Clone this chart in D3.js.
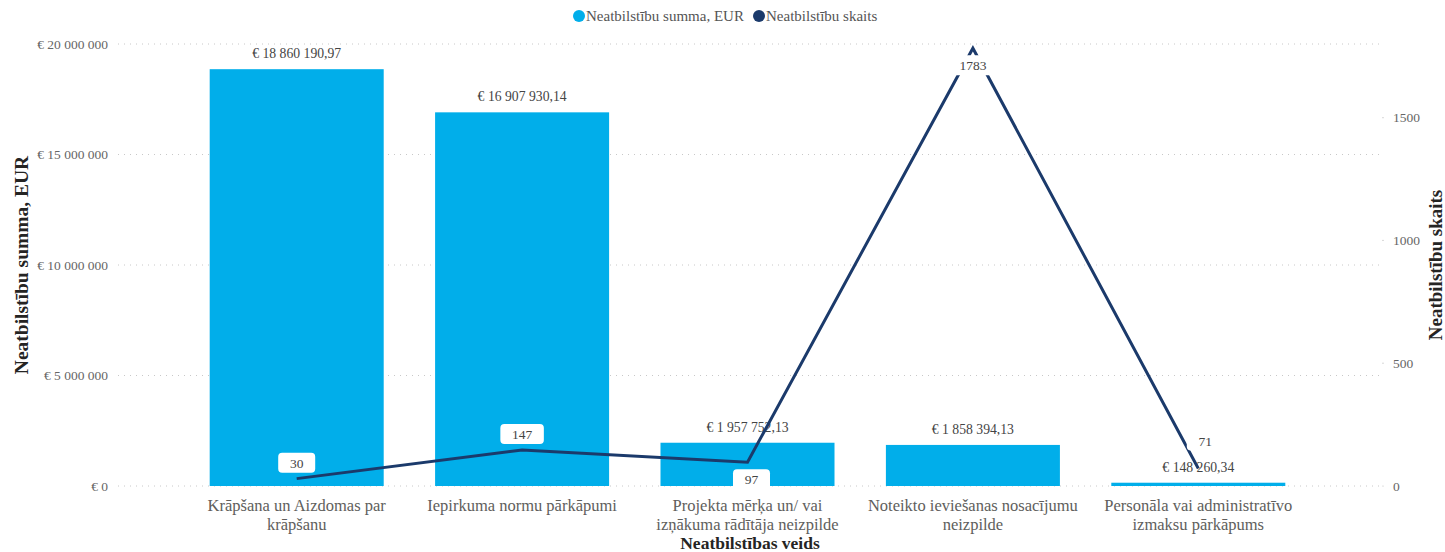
<!DOCTYPE html>
<html><head><meta charset="utf-8">
<script src="https://cdn.jsdelivr.net/npm/d3@7"></script>
<style>
html,body{margin:0;padding:0;background:#fff;}
svg{display:block;font-family:"Liberation Serif","Times New Roman",serif;}
</style></head>
<body><svg id="chart" width="1445" height="552"></svg>
<script>
const categories = [
  "Krāpšana un Aizdomas par krāpšanu",
  "Iepirkuma normu pārkāpumi",
  "Projekta mērķa un/ vai izņākuma rādītāja neizpilde",
  "Noteikto ieviešanas nosacījumu neizpilde",
  "Personāla vai administratīvo izmaksu pārkāpums"
];
const sumValues = [18860190.97, 16907930.14, 1957752.13, 1858394.13, 148260.34];
const countValues = [30, 147, 97, 1783, 71];
const leftTicks = [0, 5000000, 10000000, 15000000, 20000000];
const rightTicks = [0, 500, 1000, 1500];
const countLabelSide = ["above", "above", "below", "below", "aboveRight"];
const seriesNames = ["Neatbilstību summa, EUR", "Neatbilstību skaits"];

(function () {
const barColor = "#01AEEA", lineColor = "#1B3A6B";
const svg = d3.select("#chart");

const loc = d3.formatLocale({decimal: ",", thousands: " ", grouping: [3], currency: ["€ ", ""]});
const fmtTick = loc.format("$,.0f");
const fmtVal = loc.format("$,.2f");

const plotTop = 44, plotBottom = 486;
const x = d3.scaleBand().domain(categories).range([184, 1311]).paddingInner(0.228).paddingOuter(0.114);
const yL = d3.scaleLinear().domain([0, 20000000]).range([plotBottom, plotTop]);
const yR = d3.scaleLinear().domain([0, 1800]).range([plotBottom, plotTop]);

// grid
svg.append("g").selectAll("line").data(leftTicks).join("line")
  .attr("x1", 118).attr("x2", 1381)
  .attr("y1", d => yL(d)).attr("y2", d => yL(d))
  .attr("stroke", "#c8c8c8").attr("stroke-width", 1).attr("stroke-dasharray", "1,5");

// left axis
const gL = svg.append("g").attr("transform", "translate(108,0)")
  .call(d3.axisLeft(yL).tickValues(leftTicks).tickFormat(fmtTick).tickSize(0).tickPadding(0));
gL.select(".domain").remove();
gL.selectAll("text").attr("font-family", "Liberation Serif").attr("font-size", 13.5).attr("fill", "#666");

// right axis
const gR = svg.append("g").attr("transform", "translate(1393,0)")
  .call(d3.axisRight(yR).tickValues(rightTicks).tickFormat(d3.format("d")).tickSize(0).tickPadding(0));
gR.select(".domain").remove();
gR.selectAll("text").attr("font-family", "Liberation Serif").attr("font-size", 13.5).attr("fill", "#666");
svg.append("g").selectAll("circle").data(rightTicks).join("circle")
  .attr("cx", 1383).attr("cy", d => yR(d)).attr("r", 0.6).attr("fill", "#bbb");

// bars
svg.append("g").selectAll("rect").data(categories).join("rect")
  .attr("x", d => x(d)).attr("width", x.bandwidth())
  .attr("y", (d, i) => yL(sumValues[i]))
  .attr("height", (d, i) => plotBottom - yL(sumValues[i]))
  .attr("fill", barColor);

// bar labels
svg.append("g").selectAll("text").data(categories).join("text")
  .attr("x", d => x(d) + x.bandwidth() / 2)
  .attr("y", (d, i) => yL(sumValues[i]) - 11)
  .attr("text-anchor", "middle").attr("font-size", 13.7).attr("fill", "#444")
  .text((d, i) => fmtVal(sumValues[i]));

// line
const cx = d => x(d) + x.bandwidth() / 2;
const line = d3.line().x((d, i) => cx(categories[i])).y(d => yR(d));
svg.append("path").datum(countValues).attr("d", line)
  .attr("fill", "none").attr("stroke", lineColor).attr("stroke-width", 3)
  .attr("stroke-linejoin", "miter").attr("stroke-miterlimit", 10);

// count labels
const lg = svg.append("g");
countValues.forEach((v, i) => {
  const px = cx(categories[i]), py = yR(v);
  let lx = px, ly;
  const side = countLabelSide[i];
  if (side === "above") ly = py - 16;
  else if (side === "below") ly = py + 17;
  else { lx = px + 7; ly = py - 28; }
  if (i === 2) lx = px + 4;
  const txt = String(v);
  const w = txt.length * 6.5 + 24, h = 20;
  lg.append("rect").attr("x", lx - w / 2).attr("y", ly - h / 2).attr("width", w).attr("height", h)
    .attr("rx", 4).attr("fill", "#fff");
  lg.append("text").attr("x", lx).attr("y", ly + 5).attr("text-anchor", "middle")
    .attr("font-size", 13.5).attr("fill", "#444").text(txt);
});

// category labels with wrapping
const xl = svg.append("g");
categories.forEach(c => {
  const t = xl.append("text").attr("x", cx(c)).attr("y", 511).attr("text-anchor", "middle")
    .attr("font-size", 16.5).attr("fill", "#605E5C");
  const words = c.split(" ");
  let lineWords = [];
  let ts = t.append("tspan").attr("x", cx(c)).attr("dy", 0);
  words.forEach(wd => {
    lineWords.push(wd);
    ts.text(lineWords.join(" "));
    if (ts.node().getComputedTextLength() > 218 && lineWords.length > 1) {
      lineWords.pop();
      ts.text(lineWords.join(" "));
      lineWords = [wd];
      ts = t.append("tspan").attr("x", cx(c)).attr("dy", 19).text(wd);
    }
  });
});

// axis titles
svg.append("text").attr("transform", "translate(28,265) rotate(-90)").attr("text-anchor", "middle")
  .attr("font-size", 19.5).attr("font-weight", "bold").attr("fill", "#252423").text(seriesNames[0]);
svg.append("text").attr("transform", "translate(1442,265) rotate(-90)").attr("text-anchor", "middle")
  .attr("font-size", 19).attr("font-weight", "bold").attr("fill", "#252423").text(seriesNames[1]);
svg.append("text").attr("x", 750).attr("y", 548.5).attr("text-anchor", "middle")
  .attr("font-size", 17.5).attr("font-weight", "bold").attr("fill", "#252423").text("Neatbilstības veids");

// legend
const leg = svg.append("g");
const legItems = [{name: seriesNames[0], color: barColor, x: 579}, {name: seriesNames[1], color: lineColor, x: 759}];
legItems.forEach(it => {
  leg.append("circle").attr("cx", it.x).attr("cy", 16).attr("r", 6).attr("fill", it.color);
  leg.append("text").attr("x", it.x + 7).attr("y", 21).attr("font-size", 15).attr("fill", "#555").text(it.name);
});
})();
</script>
</body></html>
